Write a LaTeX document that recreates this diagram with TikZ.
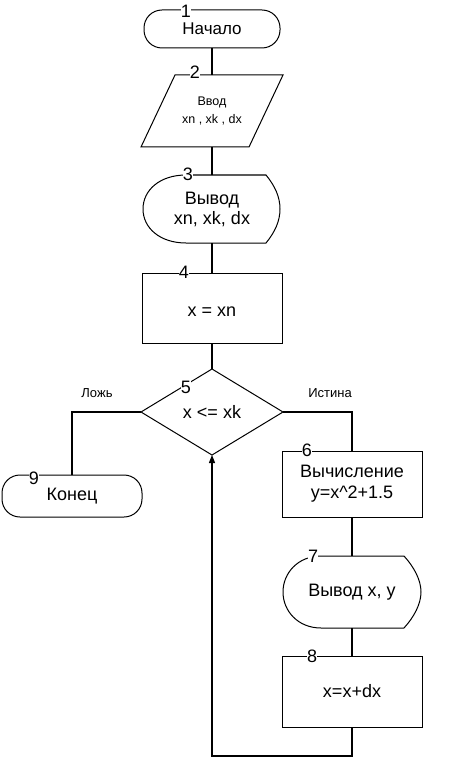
\documentclass[tikz,border=0pt]{standalone}
\usepackage{fontspec}
\setmainfont{Liberation Sans}
\usetikzlibrary{shapes.geometric,arrows.meta}
\begin{document}
\begin{tikzpicture}[x=1pt,y=-1pt,
  shp/.style={draw,line width=1pt},
  inv/.style={draw=none,inner sep=0pt,outer sep=0pt,align=center},
  term/.style={shp,rounded corners=18pt,inner sep=0pt,outer sep=0pt,align=center},
  proc/.style={shp,inner sep=0pt,outer sep=0pt,align=center},
  dec/.style={shp,diamond,inner sep=0pt,outer sep=0pt,aspect=1.65},
  num/.style={fill=white,inner sep=0.3pt,font=\fontsize{18}{20}\selectfont},
  big/.style={font=\fontsize{18}{21}\selectfont},
  lbl/.style={font=\fontsize{13}{15}\selectfont},
  conn/.style={line width=1.2pt},
]
\useasboundingbox (0,0) rectangle (453,770);

% 1
\node[term, minimum width=136pt, minimum height=38pt, font=\fontsize{17}{20}\selectfont] (n1) at (212,29) {Начало};
% 2
\node[inv, minimum width=142pt, minimum height=72pt, font=\fontsize{12.5}{18}\selectfont] (n2) at (212,111) {Ввод\\xn , xk , dx};
\draw[shp] ([xshift=34pt]n2.north west) -- (n2.north east) -- ([xshift=-34pt]n2.south east) -- (n2.south west) -- cycle;
% 3
\node[inv, minimum width=137pt, minimum height=68pt, font=\fontsize{18}{20}\selectfont] (n3) at (212,209) {Вывод\\xn, xk, dx};
\draw[shp] (186,175) -- (266,175) .. controls (275,186) and (280,197) .. (280,209)
  .. controls (280,221) and (275,232) .. (266,243) -- (186,243)
  .. controls (160,243) and (143,228) .. (143,209)
  .. controls (143,190) and (160,175) .. cycle;
% 4
\node[proc, minimum width=140pt, minimum height=70pt] (n4) at (212,308) {};
\node[big] (t4) at (212,312) {x = xn};
% 5
\node[dec, minimum width=142pt, minimum height=86pt, font=\fontsize{18}{20}\selectfont] (n5) at (212,412) {x <= xk};
\node[lbl] (lf) at (97,393) {Ложь};
\node[lbl] (lt) at (330,393) {Истина};
% 6
\node[proc, minimum width=140pt, minimum height=66pt, font=\fontsize{18}{21}\selectfont] (n6) at (352,484) {Вычисление\\y=x\textasciicircum2+1.5};
% 7
\node[inv, minimum width=138pt, minimum height=72pt, big] (n7) at (352,592) {Вывод x, y};
\draw[shp] (321,556) -- (404,556) .. controls (414,567) and (421,580) .. (421,592)
  .. controls (421,604) and (414,617) .. (404,628) -- (321,628)
  .. controls (298,628) and (283,611) .. (283,592)
  .. controls (283,573) and (298,556) .. cycle;
% 8
\node[proc, minimum width=140pt, minimum height=71pt, big] (n8) at (352,691.5) {x=x+dx};
% 9
\node[term, minimum width=140pt, minimum height=42pt, big] (n9) at (72,496) {Конец};

% connectors
\draw[conn] (n1) -- (n2);
\draw[conn] (n2) -- (n3);
\draw[conn] (n3) -- (n4);
\draw[conn] (n4) -- (n5);
\draw[conn] (n5.west) -| (n9.north);
\draw[conn] (n5.east) -| (n6.north);
\draw[conn] (n6) -- (n7);
\draw[conn] (n7) -- (n8);
\draw[conn,-{Triangle[length=8pt,width=6pt]}] (n8.south) -- ++(0,29) -| (n5.south);

% numbers
\node[num] (l1) at (186,11) {1};
\node[num] (l2) at (195,72) {2};
\node[num] (l3) at (188,174) {3};
\node[num] (l4) at (184,272) {4};
\node[num] (l5) at (186,387) {5};
\node[num] (l6) at (307,450) {6};
\node[num] (l7) at (313,556) {7};
\node[num] (l8) at (312,656) {8};
\node[num] (l9) at (34,478) {9};
\end{tikzpicture}
\end{document}
